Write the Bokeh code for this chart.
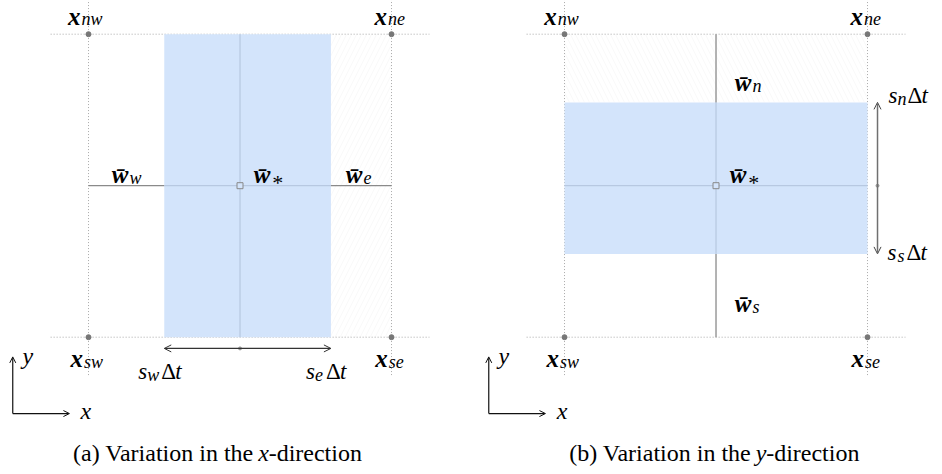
from bokeh.plotting import figure
from bokeh.models import ColumnDataSource, Arrow, OpenHead, Range1d
from bokeh.core.properties import value
from bokeh.embed import file_html
from bokeh.resources import INLINE

# ---------------- diagram data (cell units: sw corner (0,0), ne corner (1,1)) ----------------
corner_names = ["nw", "ne", "sw", "se"]
corner_x = [0.0, 1.0, 0.0, 1.0]
corner_y = [1.0, 1.0, 0.0, 0.0]
centre_x = [0.5]
centre_y = [0.5]
shift_a = {"w": -0.25, "e": 0.30}     # s_w Δt , s_e Δt  (panel a, along x)
shift_b = {"n": 0.275, "s": -0.225}   # s_n Δt , s_s Δt  (panel b, along y)
neighbour_a = ["w", "*", "e"]
neighbour_b = ["n", "*", "s"]
captions = ["(a) Variation in the", "(b) Variation in the"]
caption_vars = ["x", "y"]
caption_tail = "-direction"
panel_offset = [0.0, 1.571]

# ---------------- layout ----------------
S = 303.0                       # px per cell unit
W, H = 942, 474
xr0 = -88.0 / S
yr1 = 336.7 / S
p = figure(width=W, height=H, x_range=Range1d(xr0, xr0 + W / S), y_range=Range1d(yr1 - H / S, yr1),
           output_backend="svg", toolbar_location=None, min_border=0,
           x_axis_type=None, y_axis_type=None)
p.outline_line_color = None
p.background_fill_color = "white"
p.border_fill_color = "white"

SERIF = "Liberation Serif"
FILL = "#d3e4fb"
DARK = "#8a8a8a"
LIGHT = "#b0c2da"
DOT = "#aaaaaa"
BASE_DY = -5


def txt(x, y, s, size=21, style="italic", align="left", dx=0, dy=0, font=SERIF, color="#000000"):
    p.text(x=[x], y=[y], text=[s], x_offset=dx, y_offset=dy + BASE_DY, text_font=value(font),
           text_font_size=f"{size}px", text_font_style=style, text_align=align,
           text_baseline="alphabetic", text_color=color)


def vec_label(x, y, sub, base="x", main_size=25, sub_size=18, macron=False):
    m = base + ("\u0304" if macron else "")
    txt(x, y, m, size=main_size, style="bold italic", align="right")
    if sub == "*":
        txt(x, y, "*", size=sub_size + 4, style="normal", align="left", dx=2, dy=8)
    else:
        txt(x, y, sub, size=sub_size, style="italic", align="left", dx=1, dy=3)


def sdt_label(x, y, sub, offs):
    # offs: pixel offsets of s, subscript, Δ, t
    txt(x, y, "s", size=23, style="italic", dx=offs[0])
    txt(x, y, sub, size=18, style="italic", dx=offs[1], dy=3)
    txt(x, y, "\u0394", size=23, style="normal", dx=offs[2])
    txt(x, y, "t", size=23, style="italic", dx=offs[3])


for k, ox in enumerate(panel_offset):
    cx = [ox + v for v in corner_x]
    cy = list(corner_y)
    x0, x1 = ox + min(corner_x), ox + max(corner_x)
    y0, y1 = min(corner_y), max(corner_y)
    mx, my = ox + centre_x[0], centre_y[0]

    if k == 0:
        rl, rr = mx + shift_a["w"], mx + shift_a["e"]
        rb, rt = y0, y1
        p.quad(left=[rr], right=[x1], bottom=[y0], top=[y1], fill_alpha=0, line_color=None,
               hatch_pattern="/", hatch_color="#f2f2f2", hatch_scale=10, hatch_weight=0.5)
    else:
        rl, rr = x0, x1
        rb, rt = my + shift_b["s"], my + shift_b["n"]
        p.quad(left=[x0], right=[x1], bottom=[rt], top=[y1], fill_alpha=0, line_color=None,
               hatch_pattern="\\", hatch_color="#f2f2f2", hatch_scale=10, hatch_weight=0.5)

    # dotted cell grid lines
    ext = 0.125
    p.multi_line(xs=[[x0 - ext, x1 + ext], [x0 - ext, x1 + ext]], ys=[[y0, y0], [y1, y1]],
                 line_color=DOT, line_width=1, line_dash="1 2")
    p.multi_line(xs=[[x0, x0], [x1, x1]], ys=[[y0 - ext, y1 + 0.2], [y0 - ext, y1 + 0.2]],
                 line_color=DOT, line_width=1, line_dash="1 2")

    # solid connection line through centre
    if k == 0:
        p.line(x=[x0, x1], y=[my, my], line_color=DARK, line_width=1.3)
    else:
        p.line(x=[mx, mx], y=[y0, y1], line_color=DARK, line_width=1.3)

    # swept region
    p.quad(left=[rl], right=[rr], bottom=[rb], top=[rt], fill_color=FILL, line_color=None)
    p.multi_line(xs=[[rl, rr], [mx, mx]], ys=[[my, my], [rb, rt]], line_color=LIGHT, line_width=1)

    # corner nodes and centre node
    p.scatter(x=cx, y=cy, size=5, marker="circle", fill_color="#777777", line_color="#777777")
    p.scatter(x=[mx], y=[my], size=6, marker="square", fill_color=FILL, line_color="#888888", line_width=1)

    # corner labels
    lab_dx = {"nw": -0.026, "ne": -0.015, "sw": -0.018, "se": -0.012}
    for name, xx, yy in zip(corner_names, cx, cy):
        ly = yy + (0.043 if yy == y1 else -0.087)
        vec_label(xx + lab_dx[name], ly, name)

    # double arrow with the time-step extents
    if k == 0:
        ay = y0 - 0.037
        src = ColumnDataSource(dict(xs=[rl], ys=[ay], xe=[rr], ye=[ay]))
        p.add_layout(Arrow(start=OpenHead(size=7, line_width=1, line_color="#333333"),
                           end=OpenHead(size=7, line_width=1, line_color="#333333"),
                           x_start="xs", y_start="ys", x_end="xe", y_end="ye", source=src,
                           line_color="#333333", line_width=1.1))
        p.scatter(x=[mx], y=[ay], size=3, marker="circle", fill_color="#999999", line_color="#999999")
        sdt_label(rl, y0 - 0.13, "w", [-26, -17, -3, 11])
        sdt_label(rr, y0 - 0.13, "e", [-25, -16, -5, 9])
        vec_label(ox + 0.132, 0.519, neighbour_a[0], base="w", macron=True)
        vec_label(ox + 0.600, 0.519, neighbour_a[1], base="w", macron=True)
        vec_label(ox + 0.904, 0.519, neighbour_a[2], base="w", macron=True)
    else:
        ax = x1 + 0.033
        src = ColumnDataSource(dict(xs=[ax], ys=[rb], xe=[ax], ye=[rt]))
        p.add_layout(Arrow(start=OpenHead(size=7, line_width=1, line_color="#444444"),
                           end=OpenHead(size=7, line_width=1, line_color="#444444"),
                           x_start="xs", y_start="ys", x_end="xe", y_end="ye", source=src,
                           line_color="#707070", line_width=1.5))
        p.scatter(x=[ax], y=[my], size=3, marker="circle", fill_color="#999999", line_color="#999999")
        sdt_label(ax, rt + 0.006, "n", [11, 20, 30, 44])
        sdt_label(ax, rb - 0.012, "s", [10, 20, 29, 43])
        vec_label(ox + 0.617, 0.823, neighbour_b[0], base="w", macron=True)
        vec_label(ox + 0.600, 0.519, neighbour_b[1], base="w", macron=True)
        vec_label(ox + 0.617, 0.094, neighbour_b[2], base="w", macron=True)

    # coordinate axes symbol
    axo_x, axo_y, L = ox - 0.250, -0.252, 0.187
    src2 = ColumnDataSource(dict(xs=[axo_x, axo_x], ys=[axo_y, axo_y], xe=[axo_x, axo_x + L], ye=[axo_y + L, axo_y]))
    p.add_layout(Arrow(end=OpenHead(size=6, line_width=1, line_color="#111111"),
                       x_start="xs", y_start="ys", x_end="xe", y_end="ye", source=src2,
                       line_color="#111111", line_width=1.2))
    txt(ox - 0.218, -0.080, "y", size=24, style="italic")
    txt(ox - 0.026, -0.259, "x", size=24, style="italic")

    # caption
    cap_x = [0.578, 0.649][k]
    cy_ = -0.400
    txt(ox + cap_x, cy_, captions[k], size=24, style="normal", align="right", dx=-10)
    txt(ox + cap_x, cy_, caption_vars[k], size=24, style="italic", align="center")
    txt(ox + cap_x, cy_, caption_tail, size=24, style="normal", align="left", dx=5)

open("out.html", "w").write(file_html(p, INLINE))
